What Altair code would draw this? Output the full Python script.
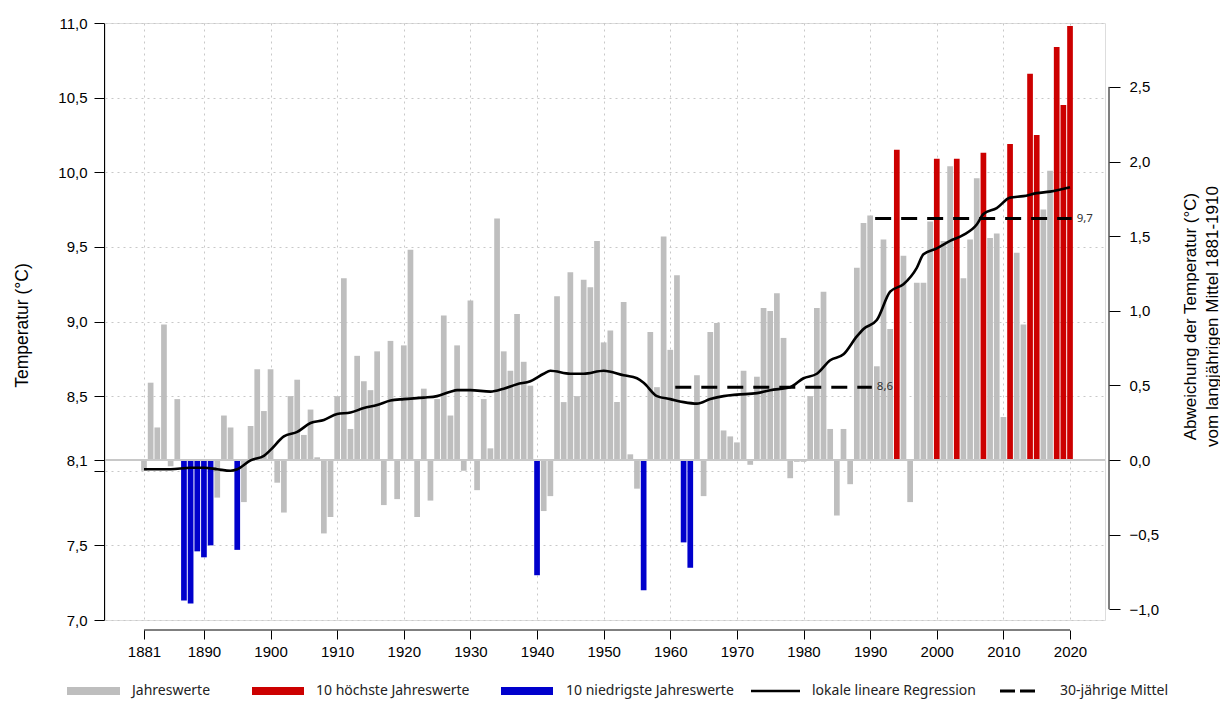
import altair as alt
import numpy as np
import pandas as pd

# ---------------- data ----------------
YEARS = list(range(1881, 2021))
TEMPS = [
    8.00, 8.59, 8.29, 8.98, 8.03, 8.48, 7.13, 7.11, 7.46, 7.42,
    7.50, 7.82, 8.37, 8.29, 7.47, 7.79, 8.30, 8.68, 8.40, 8.68,
    7.92, 7.72, 8.50, 8.61, 8.24, 8.41, 8.09, 7.58, 7.69, 8.50,
    9.29, 8.28, 8.77, 8.60, 8.54, 8.80, 7.77, 8.87, 7.81, 8.84,
    9.48, 7.69, 8.55, 7.80, 8.48, 9.04, 8.37, 8.84, 8.00, 9.14,
    7.87, 8.48, 8.15, 9.69, 8.80, 8.67, 9.05, 8.73, 8.57, 7.30,
    7.73, 7.83, 9.17, 8.46, 9.33, 8.50, 9.28, 9.23, 9.54, 8.86,
    8.94, 8.46, 9.13, 8.11, 7.88, 7.20, 8.93, 8.56, 9.57, 8.81,
    9.31, 7.52, 7.35, 8.64, 7.83, 8.93, 8.99, 8.27, 8.23, 8.19,
    8.67, 8.04, 8.63, 9.09, 9.07, 9.19, 8.89, 7.95, 8.06, 8.06,
    8.50, 9.09, 9.20, 8.28, 7.70, 8.28, 7.91, 9.36, 9.66, 9.71,
    8.70, 9.55, 8.95, 10.15, 9.44, 7.79, 9.26, 9.26, 9.67, 10.09,
    9.54, 10.04, 10.09, 9.29, 9.55, 9.96, 10.13, 9.56, 9.59, 8.36,
    10.19, 9.46, 8.98, 10.66, 10.25, 9.75, 10.01, 10.84, 10.45, 10.98,
]

CURVE_YEARS = [1881, 1885, 1888, 1890, 1892, 1894, 1895, 1897, 1899, 1900,
               1902, 1904, 1906, 1908, 1910, 1912, 1914, 1916, 1918, 1920,
               1923, 1925, 1927, 1928, 1930, 1933, 1935, 1937, 1939, 1941,
               1942, 1945, 1947, 1950, 1953, 1955, 1956, 1958, 1960, 1962,
               1964, 1966, 1968, 1970, 1973, 1975, 1978, 1980, 1982, 1984,
               1986, 1988, 1989, 1991, 1993, 1995, 1997, 1998, 2000, 2002,
               2004, 2006, 2007, 2009, 2011, 2013, 2015, 2017, 2020]
CURVE_TEMPS = [8.01, 8.01, 8.02, 8.02, 8.01, 8.00, 8.01, 8.07, 8.10, 8.14,
               8.23, 8.26, 8.32, 8.34, 8.38, 8.39, 8.42, 8.44, 8.47, 8.48,
               8.49, 8.50, 8.53, 8.54, 8.54, 8.53, 8.55, 8.58, 8.60, 8.65,
               8.67, 8.65, 8.65, 8.67, 8.64, 8.62, 8.59, 8.50, 8.48, 8.46,
               8.45, 8.48, 8.50, 8.51, 8.52, 8.54, 8.56, 8.62, 8.65, 8.74,
               8.78, 8.90, 8.95, 9.01, 9.20, 9.25, 9.36, 9.45, 9.49, 9.54,
               9.58, 9.65, 9.72, 9.76, 9.83, 9.84, 9.86, 9.87, 9.90]

MEAN_START = [1961, 1991]
MEAN_END = [1990, 2020]
MEAN_VALUES = [8.56, 9.69]
MEAN_LABELS = ["8,6", "9,7"]

BASE = 8.072  # langjähriges Mittel 1881-1910
LEFT_TICKS = [7.0, 7.5, 8.0, BASE, 8.5, 9.0, 9.5, 10.0, 10.5, 11.0]
RIGHT_TICKS = [-1.0, -0.5, 0.0, 0.5, 1.0, 1.5, 2.0, 2.5]
X_TICKS = [1881, 1890, 1900, 1910, 1920, 1930, 1940, 1950, 1960, 1970,
           1980, 1990, 2000, 2010, 2020]
LEGEND_LABELS = ["Jahreswerte", "10 höchste Jahreswerte", "10 niedrigste Jahreswerte",
                 "lokale lineare Regression", "30-jährige Mittel"]

FONT = "Noto Sans"
GRAY, RED, BLUE = "#bebebe", "#cc0000", "#0000cc"
GRID = "#c8c8c8"

df = pd.DataFrame({"year": YEARS, "temp": TEMPS})
r_hi = df["temp"].rank(ascending=False, method="first")
r_lo = df["temp"].rank(ascending=True, method="first")
df["cat"] = np.where(r_hi <= 10, "hoch", np.where(r_lo <= 10, "tief", "normal"))
df["base"] = BASE

curve = pd.DataFrame({"year": CURVE_YEARS, "temp": CURVE_TEMPS})
means = pd.DataFrame({"start": MEAN_START, "end": MEAN_END, "v": MEAN_VALUES, "label": MEAN_LABELS})

W, H = 1000, 597
xs = alt.Scale(domain=[1875.15, 2025.25], nice=False, zero=False, padding=0)
ys = alt.Scale(domain=[7.0, 11.0], nice=False, zero=False, padding=0)

x_axis = alt.Axis(values=X_TICKS, format="d", offset=10, tickSize=9, domain=False,
                  labelPadding=5, grid=True, gridDash=[2, 4], gridColor=GRID,
                  tickColor="#000", labelFontSize=15, title=None, labelFlush=False,
                  labelOverlap=False)
y_axis = alt.Axis(values=LEFT_TICKS,
                  labelExpr="abs(datum.value - 8.072) < 0.01 ? '8,1' : (datum.value == 8 ? '' : replace(format(datum.value, '.1f'), '.', ','))",
                  title="Temperatur (°C)", offset=1, tickSize=10, labelPadding=7,
                  grid=True, gridDash=[2, 4], gridColor=GRID, domainColor="#000",
                  tickColor="#000", labelFontSize=15, titleFontSize=17.5,
                  titleFontWeight="normal",
                  titleAngle=-90, titleX=-82, titleY=302, titleAlign="center",
                  titleBaseline="middle", labelOverlap=False)

bars = alt.Chart(df).mark_bar(size=5.7).encode(
    x=alt.X("year:Q", scale=xs, axis=x_axis),
    y=alt.Y("temp:Q", scale=ys, axis=y_axis),
    y2="base:Q",
    color=alt.Color("cat:N", scale=alt.Scale(domain=["normal", "hoch", "tief"],
                                             range=[GRAY, RED, BLUE]), legend=None),
)

baseline = alt.Chart(pd.DataFrame({"v": [BASE]})).mark_rule(color=GRID, strokeWidth=2).encode(
    y=alt.Y("v:Q", scale=ys)
)

line = alt.Chart(curve).mark_line(color="#000", strokeWidth=2.6, interpolate="monotone").encode(
    x=alt.X("year:Q", scale=xs), y=alt.Y("temp:Q", scale=ys)
)

mean_lines = alt.Chart(means).transform_calculate(
    x0="datum.start - 0.25", x1="datum.end + 0.25"
).mark_rule(color="#000", strokeWidth=3, strokeDash=[16, 10]).encode(
    x=alt.X("x0:Q", scale=xs), x2="x1:Q", y=alt.Y("v:Q", scale=ys)
)
mean_text = alt.Chart(means).transform_calculate(
    x1="datum.end + 0.25"
).mark_text(align="left", baseline="middle", dx=5, fontSize=11.5, color="#333", font=FONT).encode(
    x=alt.X("x1:Q", scale=xs), y=alt.Y("v:Q", scale=ys), text="label:N"
)

x_line = alt.Chart(pd.DataFrame({"a": [X_TICKS[0]], "b": [X_TICKS[-1]]})).mark_rule(
    color="#000", strokeWidth=1
).encode(x=alt.X("a:Q", scale=xs), x2="b:Q", y=alt.value(H + 10))

# legend (manual)
LEG_Y = 668
leg_specs = [
    (-38, 15, 27, GRAY, 8, None),
    (147, 199, 211, RED, 8, None),
    (396, 448, 461, BLUE, 8, None),
    (646, 695, 707, "#000", 2.5, None),
    (895, 930, 955, "#000", 3, [15, 5]),
]
legend_layers = []
for (a, b, t, col, sw, dash), lab in zip(leg_specs, LEGEND_LABELS):
    kw = dict(color=col, strokeWidth=sw)
    if dash:
        kw["strokeDash"] = dash
    legend_layers.append(
        alt.Chart(pd.DataFrame({"l": [lab]})).mark_rule(**kw).encode(
            x=alt.value(a), x2=alt.value(b), y=alt.value(LEG_Y))
    )
    legend_layers.append(
        alt.Chart(pd.DataFrame({"l": [lab]})).mark_text(
            align="left", baseline="middle", fontSize=14, color="#222", font=FONT
        ).encode(x=alt.value(t), y=alt.value(LEG_Y), text="l:N")
    )

main = alt.layer(bars, baseline, line, mean_lines, mean_text, x_line, *legend_layers)

right_axis = alt.Axis(values=RIGHT_TICKS, orient="right",
                      labelExpr="replace(format(datum.value, '.1f'), '.', ',')",
                      offset=4, tickSize=11, labelPadding=9, domain=False, grid=False,
                      tickColor="#000", labelFontSize=15, labelOverlap=False,
                      title=["Abweichung der Temperatur (°C)", "vom langjährigen Mittel 1881-1910"],
                      titleFontSize=17, titleFontWeight="normal", titleAngle=-90,
                      titleX=81, titleY=293,
                      titleAlign="center", titleBaseline="middle", titleLineHeight=22)
right = alt.Chart(pd.DataFrame({"lo": [RIGHT_TICKS[0]], "hi": [RIGHT_TICKS[-1]]})).mark_rule(
    color="#000", strokeWidth=1
).encode(
    x=alt.value(W + 4),
    y=alt.Y("lo:Q", scale=alt.Scale(domain=[7.0 - BASE, 11.0 - BASE], nice=False, zero=False),
            axis=right_axis),
    y2="hi:Q",
)

chart = alt.layer(main, right).resolve_scale(y="independent").properties(
    width=W, height=H,
    autosize=alt.AutoSizeParams(type="none"),
    padding={"left": 97, "top": 15, "right": 115, "bottom": 80},
).configure_view(stroke=None).configure_axis(
    labelFont=FONT, titleFont=FONT, labelColor="#222", titleColor="#222",
    titleFontWeight="normal",
).configure(background="white")

chart.save("out.html", embed_options={"renderer": "svg", "actions": False})
